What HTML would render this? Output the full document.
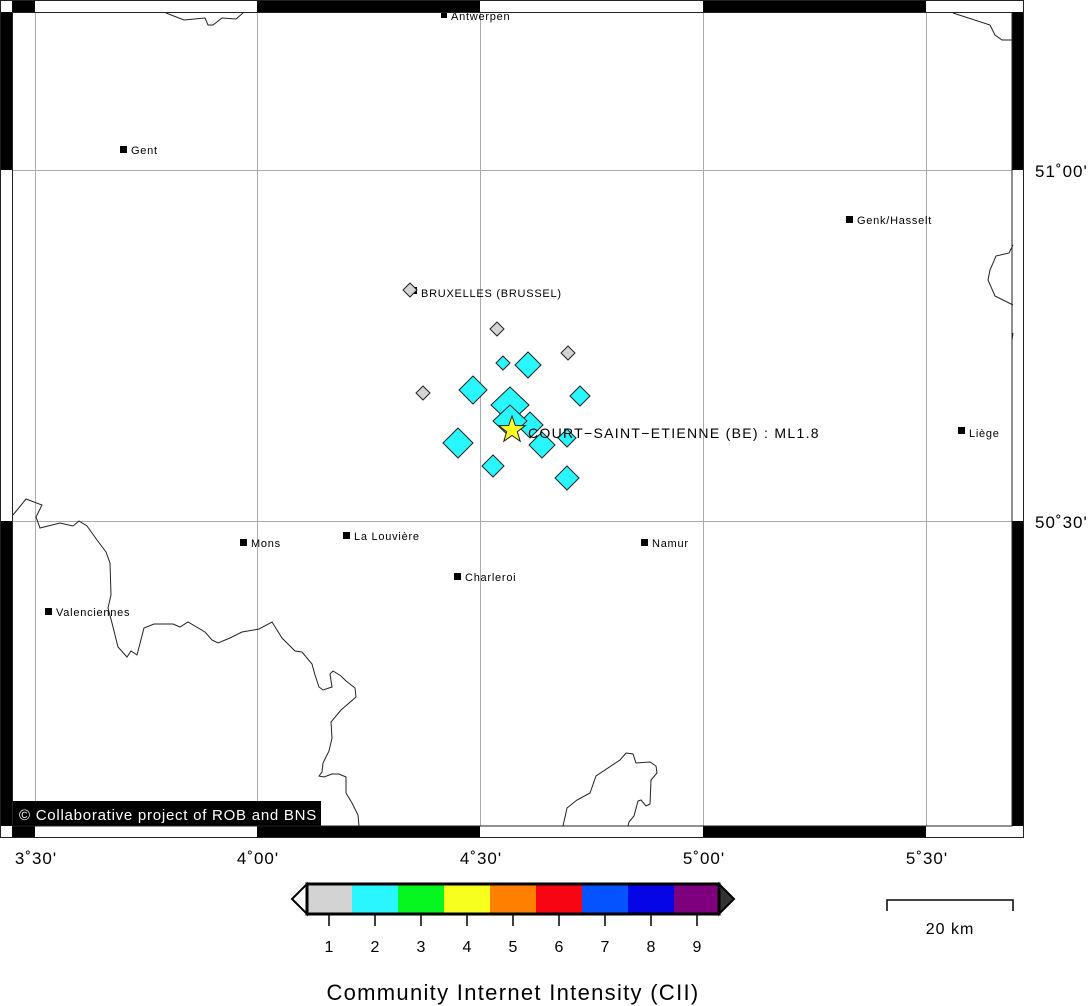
<!DOCTYPE html>
<html><head><meta charset="utf-8"><style>
html,body{margin:0;padding:0;background:#fff;}
svg{display:block;font-family:"Liberation Sans",sans-serif;}
</style></head><body>
<svg width="1088" height="1006" viewBox="0 0 1088 1006" xmlns="http://www.w3.org/2000/svg">
<rect x="0" y="0" width="1088" height="1006" fill="#fff"/>
<g stroke="#aaa" stroke-width="1">
<line x1="35.5" y1="12" x2="35.5" y2="826"/>
<line x1="257.5" y1="12" x2="257.5" y2="826"/>
<line x1="480.5" y1="12" x2="480.5" y2="826"/>
<line x1="703.5" y1="12" x2="703.5" y2="826"/>
<line x1="926.5" y1="12" x2="926.5" y2="826"/>
<line x1="12" y1="170.5" x2="1012" y2="170.5"/>
<line x1="12" y1="521.5" x2="1012" y2="521.5"/>
</g>
<g fill="none" stroke="#222" stroke-width="1">
<polyline points="166,13 184,20 205,18 208,25 213,25 222,18 236,19 243,13"/>
<polyline points="13,515 26,499 42,505 36,517 40,528 60,523 73,526 79,521 87,526 97,540 106,552 110,563 111,595 108,608 112,623 118,647 127,657 131,651 137,655 144,628 154,624 173,624 180,627 188,622 205,632 212,640 218,643 230,638 242,632 259,629 272,622 282,638 295,651 302,652 312,664 315,675 319,687 323,690 332,687 330,674 333,671 341,676 346,681 355,688 356,697 341,710 331,722 332,738 329,751 323,763 322,772 319,776 324,777 332,774 339,774 346,777 346,793 352,803 358,815 359,826"/>
<polyline points="953,13 990,25 995,35 1002,40 1013,40"/>
<polyline points="1013,245 1009,253 996,256 990,270 988,280 995,296 1013,305"/>
<polyline points="1013,333 1012,340"/>
<polyline points="563,826 567,808 577,800 590,793 596,776 620,760 626,753 633,754 636,763 650,762 656,766 657,773 651,780 650,804 646,806 641,800 638,801 634,816 629,822 628,826"/>
</g>
<g font-size="11" fill="#000" letter-spacing="0.75">
<rect x="441" y="12" width="6" height="6"/><text x="451" y="20">Antwerpen</text>
<rect x="120" y="146" width="7" height="7"/><text x="131" y="154">Gent</text>
<rect x="846" y="216" width="7" height="7"/><text x="857" y="224">Genk/Hasselt</text>
<rect x="410" y="287" width="7" height="7"/><text x="421" y="297">BRUXELLES (BRUSSEL)</text>
<rect x="958" y="427" width="7" height="7"/><text x="969" y="437">Liège</text>
<rect x="240" y="539" width="7" height="7"/><text x="251" y="547">Mons</text>
<rect x="343" y="532" width="7" height="7"/><text x="354" y="540">La Louvière</text>
<rect x="641" y="539" width="7" height="7"/><text x="652" y="547">Namur</text>
<rect x="454" y="573" width="7" height="7"/><text x="465" y="581">Charleroi</text>
<rect x="45" y="608" width="7" height="7"/><text x="56" y="616">Valenciennes</text>
</g>
<g stroke="#222" stroke-width="1">
<g fill="#d3d3d3">
<polygon points="410,283 417,290 410,297 403,290"/>
<polygon points="497,322 504,329 497,336 490,329"/>
<polygon points="568,346 575,353 568,360 561,353"/>
<polygon points="423,386 430,393 423,400 416,393"/>
</g>
<g fill="#28f7ff">
<polygon points="503,356 510,363 503,370 496,363"/>
<polygon points="528,352 541,365 528,378 515,365"/>
<polygon points="473,376 487,390 473,404 459,390"/>
<polygon points="580,386 590,396 580,406 570,396"/>
<polygon points="510,387 529,405 510,423 491,405"/>
<polygon points="530,412 543,425 530,438 517,425"/>
<polygon points="567,429 576,438 567,447 558,438"/>
<polygon points="542,432 555,445 542,458 529,445"/>
<polygon points="510,405 527,421 510,437 493,421"/>
<polygon points="458,428 473,443 458,458 443,443"/>
<polygon points="493,455 504,466 493,477 482,466"/>
<polygon points="567,466 579,478 567,490 555,478"/>
</g>
</g>
<polygon points="512,416 515.3,425.5 525.3,425.7 517.3,431.7 520.2,441.3 512,435.5 503.8,441.3 506.7,431.7 498.7,425.7 508.7,425.5" fill="#ffff22" stroke="#222" stroke-width="1"/>
<text x="528" y="438" font-size="14" letter-spacing="1.3">COURT−SAINT−ETIENNE (BE) : ML1.8</text>
<rect x="13" y="801" width="308" height="25" fill="#000"/>
<text x="19" y="820" font-size="15" fill="#fff" letter-spacing="0.75">© Collaborative project of ROB and BNS</text>
<g fill="#000">
<rect x="12" y="0" width="23" height="12"/><rect x="257" y="0" width="223" height="12"/><rect x="703" y="0" width="223" height="12"/>
<rect x="12" y="826" width="23" height="12"/><rect x="257" y="826" width="223" height="12"/><rect x="703" y="826" width="223" height="12"/>
<rect x="0" y="12" width="12" height="158"/><rect x="0" y="521" width="12" height="305"/>
<rect x="1012" y="12" width="12" height="158"/><rect x="1012" y="521" width="12" height="305"/>
</g>
<g fill="none" stroke="#222" stroke-width="1">
<rect x="0.5" y="0.5" width="1023" height="837"/>
<rect x="12.5" y="12.5" width="999.5" height="813.5"/>
</g>
<g font-size="17" fill="#000" text-anchor="middle" letter-spacing="1">
<text x="36" y="864">3˚30'</text>
<text x="258" y="864">4˚00'</text>
<text x="481" y="864">4˚30'</text>
<text x="704" y="864">5˚00'</text>
<text x="927" y="864">5˚30'</text>
</g>
<g font-size="17" fill="#000" letter-spacing="1">
<text x="1035" y="177">51˚00'</text>
<text x="1035" y="528">50˚30'</text>
</g>
<g>
<rect x="307" y="885" width="45" height="28" fill="#d3d3d3"/>
<rect x="352" y="885" width="46" height="28" fill="#28f7ff"/>
<rect x="398" y="885" width="46" height="28" fill="#05f71f"/>
<rect x="444" y="885" width="46" height="28" fill="#f7ff1f"/>
<rect x="490" y="885" width="46" height="28" fill="#ff8000"/>
<rect x="536" y="885" width="46" height="28" fill="#f70512"/>
<rect x="582" y="885" width="46" height="28" fill="#0552ff"/>
<rect x="628" y="885" width="46" height="28" fill="#0505e6"/>
<rect x="674" y="885" width="45" height="28" fill="#7f007f"/>
<polygon points="307,884 292,899 307,914" fill="#fff" stroke="#000" stroke-width="2"/>
<polygon points="719,884 734,899 719,914" fill="#333" stroke="#000" stroke-width="2"/>
<rect x="307" y="884" width="412" height="30" fill="none" stroke="#000" stroke-width="3"/>
<g stroke="#000" stroke-width="1.5">
<line x1="329" y1="915" x2="329" y2="926"/><line x1="375" y1="915" x2="375" y2="926"/><line x1="421" y1="915" x2="421" y2="926"/>
<line x1="467" y1="915" x2="467" y2="926"/><line x1="513" y1="915" x2="513" y2="926"/><line x1="559" y1="915" x2="559" y2="926"/>
<line x1="605" y1="915" x2="605" y2="926"/><line x1="651" y1="915" x2="651" y2="926"/><line x1="697" y1="915" x2="697" y2="926"/>
</g>
<g font-size="16" text-anchor="middle">
<text x="329" y="952">1</text><text x="375" y="952">2</text><text x="421" y="952">3</text><text x="467" y="952">4</text><text x="513" y="952">5</text><text x="559" y="952">6</text><text x="605" y="952">7</text><text x="651" y="952">8</text><text x="697" y="952">9</text>
</g>
<text x="513" y="1000" font-size="22" text-anchor="middle" letter-spacing="1.3">Community Internet Intensity (CII)</text>
</g>
<polyline points="887,911 887,900 1013,900 1013,911" fill="none" stroke="#000" stroke-width="1.5"/>
<text x="950" y="934" font-size="16" text-anchor="middle" letter-spacing="1">20 km</text>
</svg>
</body></html>
